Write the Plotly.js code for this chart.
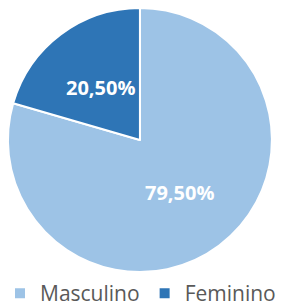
<!DOCTYPE html>
<html><head><meta charset="utf-8">
<script src="https://cdn.plot.ly/plotly-3.0.1.min.js"></script>
<style>html,body{margin:0;padding:0;background:#fff;overflow:hidden}#c{width:281px;height:314px}</style>
</head><body><div id="c"></div>
<script>
const labels = ["Masculino", "Feminino"];
const values = [79.5, 20.5];
const texts = values.map(v => v.toFixed(2).replace('.', ',') + '%');
const colors = ["#9DC3E6", "#2E75B6"];

const W = 281, H = 314;
const dom = {x: [0.028, 0.968], y: [0.1338, 0.9745]};
const cx = (dom.x[0] + dom.x[1]) / 2 * W;
const cy = (dom.y[0] + dom.y[1]) / 2 * H;
const R = Math.min((dom.x[1] - dom.x[0]) * W, (dom.y[1] - dom.y[0]) * H) / 2;
const total = values.reduce((a, b) => a + b, 0);
let cum = 0;
const annotations = values.map((v, i) => {
  const mid = (cum + v / 2) / total * 2 * Math.PI;
  cum += v;
  const px = cx + 0.5 * R * Math.sin(mid);
  const py = cy + 0.5 * R * Math.cos(mid);
  return {x: px / W, y: py / H, xref: 'paper', yref: 'paper', text: texts[i], showarrow: false,
    xanchor: 'center', yanchor: 'middle',
    font: {color: '#ffffff', size: 20, family: 'Open Sans', weight: 'bold'}};
});

Plotly.newPlot('c', [{
  type: 'pie',
  labels: labels,
  values: values,
  textinfo: 'none',
  sort: false,
  direction: 'clockwise',
  rotation: 0,
  marker: {colors: colors, line: {color: '#ffffff', width: 2}},
  domain: dom,
  hoverinfo: 'none'
}], {
  width: W, height: H,
  margin: {l: 0, r: 0, t: 0, b: 0},
  paper_bgcolor: '#ffffff',
  showlegend: true,
  annotations: annotations,
  legend: {orientation: 'h', x: 0.514, xanchor: 'center', y: 0, yanchor: 'bottom',
    font: {size: 21, color: '#595959', family: 'Open Sans'}, itemwidth: 20, tracegroupgap: 0},
}, {displayModeBar: false, staticPlot: true});
</script></body></html>
